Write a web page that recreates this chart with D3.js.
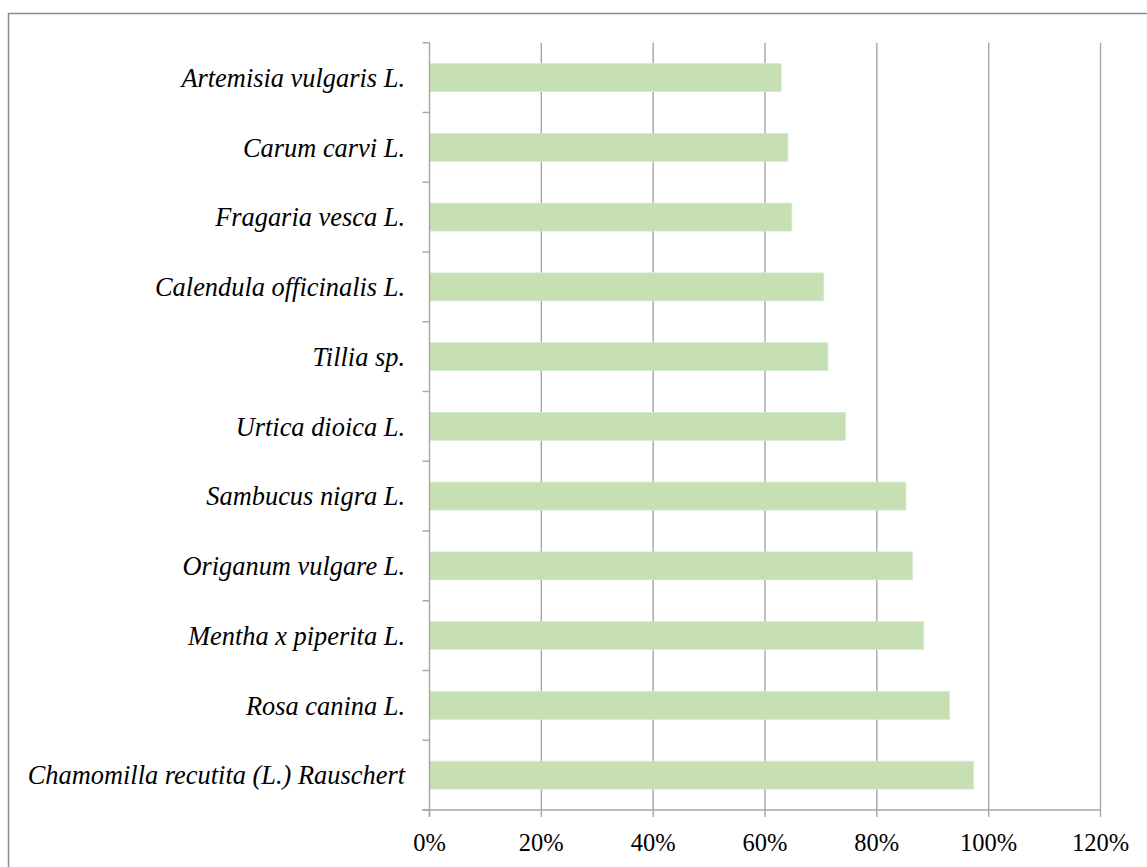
<!DOCTYPE html>
<html>
<head>
<meta charset="utf-8">
<script src="https://cdn.jsdelivr.net/npm/d3@7"></script>
<style>
  html, body { margin: 0; padding: 0; background: #fff; }
  svg { display: block; }
</style>
</head>
<body>
<svg id="chart" width="1147" height="867"></svg>
<script>
const categories = [
  "Artemisia vulgaris L.",
  "Carum carvi L.",
  "Fragaria vesca L.",
  "Calendula officinalis L.",
  "Tillia sp.",
  "Urtica dioica L.",
  "Sambucus nigra L.",
  "Origanum vulgare L.",
  "Mentha x piperita L.",
  "Rosa canina L.",
  "Chamomilla recutita (L.) Rauschert"
];
const values = [0.629, 0.641, 0.648, 0.705, 0.7125, 0.744, 0.852, 0.864, 0.884, 0.930, 0.973];
const xTicks = [0, 0.2, 0.4, 0.6, 0.8, 1.0, 1.2];
const xTickLabels = ["0%", "20%", "40%", "60%", "80%", "100%", "120%"];

const svg = d3.select("#chart");
const gridColor = "#a6a6a6";
const serif = "'Times New Roman'";

// outer chart border
svg.append("rect")
  .attr("x", 8.5).attr("y", 13.5)
  .attr("width", 1160).attr("height", 900)
  .attr("fill", "none").attr("stroke", "#8c8c8c").attr("stroke-width", 1.5);

const x = d3.scaleLinear().domain([0, 1.2]).range([429.5, 1100.5]);
const y = d3.scaleBand().domain(categories).range([42.7, 810]).paddingInner(0.6).paddingOuter(0.3);

const plotTop = y.range()[0], plotBottom = y.range()[1];

// vertical gridlines
svg.append("g").selectAll("line").data(xTicks.slice(1)).join("line")
  .attr("x1", d => x(d)).attr("x2", d => x(d))
  .attr("y1", plotTop).attr("y2", plotBottom)
  .attr("stroke", gridColor).attr("stroke-width", 1.4);

// bars
svg.append("g").selectAll("rect").data(categories).join("rect")
  .attr("x", x(0))
  .attr("y", d => y(d))
  .attr("width", (d, i) => x(values[i]) - x(0))
  .attr("height", y.bandwidth())
  .attr("fill", "#c6e0b4")
  .attr("stroke", "#d4ead0").attr("stroke-width", 0.8);

// y axis line
svg.append("line")
  .attr("x1", x(0)).attr("x2", x(0)).attr("y1", plotTop).attr("y2", plotBottom + 7)
  .attr("stroke", gridColor).attr("stroke-width", 1.4);

// y tick marks at category boundaries
const step = y.step();
const boundaries = categories.map(c => y(c) - step * y.paddingInner() / 2).concat([plotBottom]);
svg.append("g").selectAll("line").data(boundaries).join("line")
  .attr("x1", x(0) - 7).attr("x2", x(0))
  .attr("y1", d => d).attr("y2", d => d)
  .attr("stroke", gridColor).attr("stroke-width", 1.4);

// x axis line
svg.append("line")
  .attr("x1", x(0) - 7).attr("x2", x(1.2)).attr("y1", plotBottom).attr("y2", plotBottom)
  .attr("stroke", gridColor).attr("stroke-width", 1.6);

// x tick marks
svg.append("g").selectAll("line").data(xTicks).join("line")
  .attr("x1", d => x(d)).attr("x2", d => x(d))
  .attr("y1", plotBottom).attr("y2", plotBottom + 7)
  .attr("stroke", gridColor).attr("stroke-width", 1.4);

// x tick labels
svg.append("g").selectAll("text").data(xTicks).join("text")
  .attr("x", d => x(d)).attr("y", 851)
  .attr("text-anchor", "middle")
  .attr("fill", "#000")
  .style("font-family", serif)
  .style("font-size", "24.5px")
  .text((d, i) => xTickLabels[i]);

// y category labels
svg.append("g").selectAll("text").data(categories).join("text")
  .attr("x", 405).attr("y", d => y(d) + y.bandwidth() / 2)
  .attr("dy", "0.35em")
  .attr("text-anchor", "end")
  .attr("fill", "#000")
  .style("font-family", serif)
  .style("font-size", "26.4px").style("font-style", "italic")
  .text(d => d);
</script>
</body>
</html>
